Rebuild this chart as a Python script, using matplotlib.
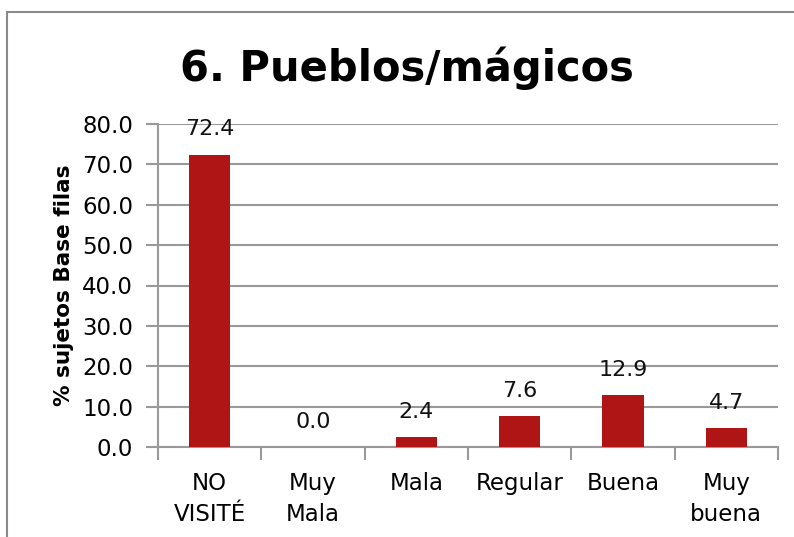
import matplotlib
matplotlib.use("Agg")
import matplotlib.pyplot as plt
from matplotlib.patches import Rectangle

categories = ["NO\nVISITÉ", "Muy\nMala", "Mala", "Regular", "Buena", "Muy\nbuena"]
values = [72.4, 0.0, 2.4, 7.6, 12.9, 4.7]
y_ticks = [0, 10, 20, 30, 40, 50, 60, 70, 80]

title = "6. Pueblos/mágicos"
y_label = "% sujetos Base filas"

bar_color = "#B01515"
grid_color = "#999999"

plt.rcParams["font.family"] = ["DejaVu Sans"]

fig = plt.figure(figsize=(7.94, 5.37), dpi=100)
W, H = 794, 537

# outer chart frame, running off the right and bottom edges
fig.patches.append(Rectangle((7 / W, -0.1), 1.2, 1 - 12 / H + 0.1,
                             transform=fig.transFigure, fill=False,
                             edgecolor="#8A8A8A", linewidth=1.5))

ax = fig.add_axes([158 / W, 1 - 447 / H, (778 - 158) / W, (447 - 124) / H])

x = list(range(len(categories)))
bars = ax.bar(x, values, width=0.4, color=bar_color, zorder=3)

for xi, v in zip(x, values):
    ax.annotate(f"{v:.1f}", (xi, v), xytext=(0, 11), textcoords="offset points",
                ha="center", va="bottom", fontsize=16, color="#111111")

ax.set_xlim(-0.5, len(categories) - 0.5)
ax.set_ylim(0, 80)
ax.set_yticks(y_ticks)
ax.set_yticklabels([f"{t:.1f}" for t in y_ticks], fontsize=16.5)
ax.yaxis.grid(True, color=grid_color, linewidth=1.5, zorder=0)
ax.set_axisbelow(True)

# category boundaries as x ticks
ax.set_xticks([i - 0.5 for i in range(len(categories) + 1)])
ax.set_xticklabels([])
ax.set_xticks(x, minor=True)
ax.set_xticklabels(categories, minor=True, fontsize=16.5, linespacing=1.45)
ax.tick_params(axis="x", which="minor", length=0, pad=18)
ax.tick_params(axis="x", which="major", length=9, width=1.5, color=grid_color)
ax.tick_params(axis="y", length=9, width=1.5, color=grid_color, pad=9)

for s in ["top", "right"]:
    ax.spines[s].set_visible(False)
for s in ["left", "bottom"]:
    ax.spines[s].set_color(grid_color)
    ax.spines[s].set_linewidth(1.5)

ax.set_ylabel(y_label, fontsize=15.5, fontweight="bold", labelpad=6)

fig.text(407 / W, 1 - 68 / H, title, ha="center", va="center",
         fontsize=30, fontweight="bold")

fig.savefig("out.png", dpi=100)
